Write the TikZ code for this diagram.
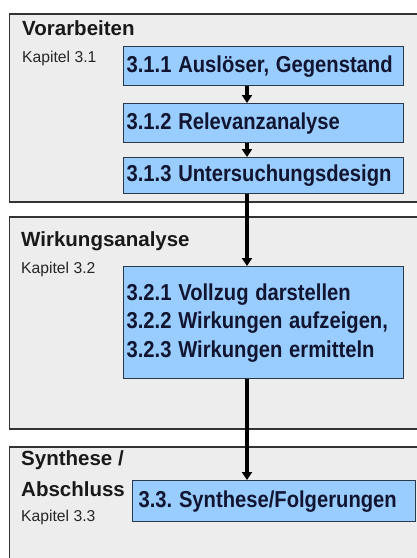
\documentclass[tikz,border=0pt]{standalone}
\usepackage{fontspec}
\usepackage{graphicx}
\setmainfont{Liberation Sans}
\usetikzlibrary{positioning,arrows.meta}
\definecolor{panelgray}{HTML}{EDEDED}
\definecolor{boxblue}{HTML}{99CCFF}
\definecolor{boxline}{HTML}{2B3A4A}
\definecolor{textnavy}{HTML}{111530}
\frenchspacing
\newcommand{\tallline}[1]{\scalebox{1}[1.14]{#1}}

\begin{document}
\begin{tikzpicture}[x=1pt,y=-1pt,
    panel/.style={draw=black!80,line width=1.3pt,fill=panelgray},
    stage/.style={draw=boxline,line width=1.2pt,fill=boxblue,anchor=north west,
        text width=274pt,align=left,inner xsep=3pt,inner ysep=0pt,
        font=\bfseries\fontsize{20.2}{28.5}\selectfont,text=textnavy},
    phase/.style={anchor=base west,inner sep=0pt,
        font=\bfseries\fontsize{20.5}{21}\selectfont,text=black!90},
    chapter/.style={anchor=base west,inner sep=0pt,
        font=\fontsize{15.7}{16}\selectfont,text=black!85},
    flow/.style={line width=3.4pt,-{Triangle[width=10pt,length=8pt]}}]
                    \useasboundingbox (0,0) rectangle (417,558);
                    \clip (0,0) rectangle (417,558);
                    % Panels
                    \draw[panel] (9.5,14) rectangle (430,202);
                    \draw[panel] (9.5,217) rectangle (430,429);
                    \draw[panel] (9.5,447) rectangle (430,580);
                    % Labels
                    \node[phase] (vor) at (22,35) {Vorarbeiten};
                    \node[chapter] (kap1) at (22,62) {Kapitel 3.1};
                    \node[phase] (wirk) at (21,246.5) {Wirkungsanalyse};
                    \node[chapter] (kap2) at (21,273) {Kapitel 3.2};
                    \node[phase] (syn) at (21,465) {Synthese /};
                    \node[phase] (abs) at (21,496.5) {Abschluss};
                    \node[chapter] (kap3) at (21,521.5) {Kapitel 3.3};
                    % Steps
                    \node[stage,minimum height=39pt] (s311) at (123,46) {\tallline{3.1.1 Auslöser, Gegenstand}};
                    \node[stage,minimum height=39pt] (s312) at (123,103) {\tallline{3.1.2 Relevanzanalyse}};
                    \node[stage,minimum height=36pt] (s313) at (123,157) {\tallline{3.1.3 Untersuchungsdesign}};
                    \node[stage,minimum height=112pt] (s32) at (123,266)
                        {\tallline{3.2.1 Vollzug darstellen}\\\tallline{3.2.2 Wirkungen aufzeigen,}\\\tallline{3.2.3 Wirkungen ermitteln}};
                    \node[stage,minimum height=41pt,text width=271pt,inner xsep=6pt] (s33) at (132,480)
                        {\tallline{3.3. Synthese/Folgerungen}};
                    % Arrows
                    \coordinate (spine) at (247,0);
                    \draw[flow] (s311.south -| spine) -- (s312.north -| spine);
                    \draw[flow] (s312.south -| spine) -- (s313.north -| spine);
                    \draw[flow] (s313.south -| spine) -- (s32.north -| spine);
                    \draw[flow] (s32.south -| spine) -- (s33.north -| spine);
\end{tikzpicture}
\end{document}
